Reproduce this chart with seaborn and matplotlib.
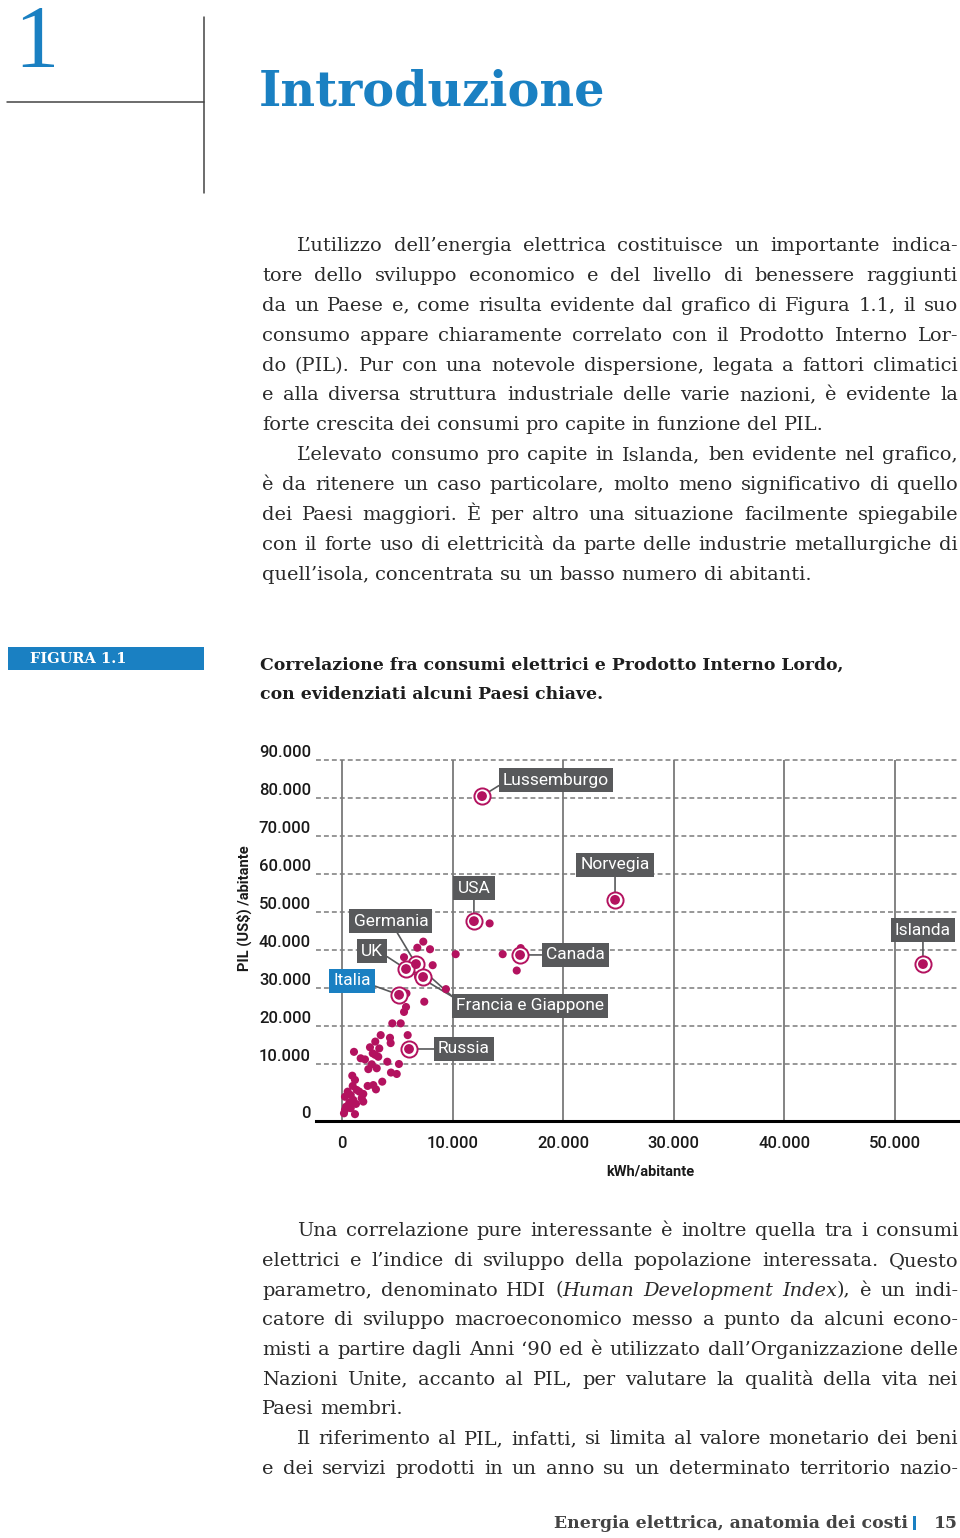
import numpy as np
import pandas as pd
import seaborn as sns
import matplotlib.pyplot as plt
from matplotlib import transforms
from matplotlib.patches import Rectangle
from matplotlib.lines import Line2D

W, H = 960, 1538
BLUE = '#1a80c2'
MAGENTA = '#b3125f'
LABEL_GRAY = '#58595b'
GRID = '#7a7a7a'
INK = '#2a2a2a'
SERIF = 'DejaVu Serif'
SANS = 'Roboto'

# --- chart data (kWh per inhabitant, GDP US$ per inhabitant) ---
key_countries = ['Lussemburgo', 'USA', 'Norvegia', 'Islanda', 'Canada',
                 'Germania', 'UK', 'Francia', 'Italia', 'Russia']
key_kwh = [12660, 11930, 24690, 52530, 16100, 6690, 5790, 7330, 5160, 6060]
key_pil = [80500, 47600, 53200, 36300, 38700, 36300, 35000, 32900, 28200, 13950]

other_kwh = [13350, 10280, 14530, 15800, 16160, 7350, 6810, 7960, 5610, 8200,
             6870, 5830, 7440, 5790, 5610, 9400,
             4550, 5310, 5940, 3500, 4340, 4400, 3010, 1085, 2530, 3370,
             2780, 3010, 3280, 1690, 2080, 4100, 5150, 2690, 3140, 2380,
             4430, 4950, 930, 1175, 3640, 2320, 2830, 3070, 970, 1330,
             515, 790, 270, 1565, 1925, 1780, 1020, 660, 1925, 1265,
             360, 270, 180, 1175, 570, 790]
other_pil = [47000, 38900, 38900, 34600, 40500, 42200, 40600, 40200, 38100, 36000,
             33000, 28600, 26400, 25000, 23700, 29700,
             20700, 20700, 17600, 17600, 16900, 15500, 15900, 13200, 14400, 14100,
             12800, 12400, 11900, 11500, 11200, 10600, 10000, 9950, 9250, 9100,
             8500, 8250, 7950, 7200, 6900, 6150, 6300, 5550, 6150, 5450,
             5150, 4550, 4250, 5150, 4750, 4000, 3700, 3200, 3400, 3000,
             2500, 1950, 1350, 1200, 2500, 2250]

x_ticks = [0, 10000, 20000, 30000, 40000, 50000]
x_ticklabels = ['0', '10.000', '20.000', '30.000', '40.000', '50.000']
y_ticks = [0, 10000, 20000, 30000, 40000, 50000, 60000, 70000, 80000, 90000]
y_ticklabels = ['0', '10.000', '20.000', '30.000', '40.000', '50.000',
                '60.000', '70.000', '80.000', '90.000']

# label layout: offset of box centre from point (pixels, y up), leader anchor on box
label_layout = {
    'Lussemburgo': ((74, 16), (0.0, 0.3)),
    'USA': ((0, 33), (0.5, 0.0)),
    'Norvegia': ((0, 35), (0.5, 0.0)),
    'Islanda': ((0, 34), (0.5, 0.0)),
    'Canada': ((55, 0), (0.0, 0.5)),
    'Russia': ((55, 0), (0.0, 0.5)),
    'Italia': ((-47, 14), (1.0, 0.25)),
    'UK': ((-34, 18), (1.0, 0.3)),
    'Germania': ((-25, 43), (0.55, 0.0)),
}

df_other = pd.DataFrame({'kwh': other_kwh, 'pil': other_pil})
df_key = pd.DataFrame({'paese': key_countries, 'kwh': key_kwh, 'pil': key_pil})

sns.set_style('white')
plt.rcParams['font.family'] = [SANS, 'DejaVu Sans']

fig = plt.figure(figsize=(W / 100, H / 100), dpi=100)
renderer = fig.canvas.get_renderer()


def fx(px):
    return px / W


def fy(py):
    return 1 - py / H


def text_width(s, **kw):
    t = fig.text(0, 0, s, **kw)
    w = t.get_window_extent(renderer).width
    t.remove()
    return w


# ---------------- header ----------------
fig.text(fx(14), fy(66), '1', family='Liberation Serif', fontsize=64,
         color=BLUE, va='baseline', ha='left')
fig.add_artist(Line2D([fx(7), fx(204)], [fy(102), fy(102)], color='#444444', lw=1.1))
fig.add_artist(Line2D([fx(204), fx(204)], [fy(17), fy(193)], color='#444444', lw=1.1))

tw = text_width('Introduzione', family=SERIF, fontweight='bold', fontsize=40)
fig.text(fx(259), fy(105), 'Introduzione', family=SERIF, fontweight='bold',
         fontsize=40 * 346 / tw, color=BLUE, va='baseline', ha='left')

# ---------------- justified body text ----------------
body_top = [
    ("L’utilizzo dell’energia elettrica costituisce un importante indica-", True, True),
    ("tore dello sviluppo economico e del livello di benessere raggiunti", False, True),
    ("da un Paese e, come risulta evidente dal grafico di Figura 1.1, il suo", False, True),
    ("consumo appare chiaramente correlato con il Prodotto Interno Lor-", False, True),
    ("do (PIL). Pur con una notevole dispersione, legata a fattori climatici", False, True),
    ("e alla diversa struttura industriale delle varie nazioni, è evidente la", False, True),
    ("forte crescita dei consumi pro capite in funzione del PIL.", False, False),
    ("L’elevato consumo pro capite in Islanda, ben evidente nel grafico,", True, True),
    ("è da ritenere un caso particolare, molto meno significativo di quello", False, True),
    ("dei Paesi maggiori. È per altro una situazione facilmente spiegabile", False, True),
    ("con il forte uso di elettricità da parte delle industrie metallurgiche di", False, True),
    ("quell’isola, concentrata su un basso numero di abitanti.", False, False),
]
body_bottom = [
    ("Una correlazione pure interessante è inoltre quella tra i consumi", True, True),
    ("elettrici e l’indice di sviluppo della popolazione interessata. Questo", False, True),
    ("parametro, denominato HDI (*Human Development Index*), è un indi-", False, True),
    ("catore di sviluppo macroeconomico messo a punto da alcuni econo-", False, True),
    ("misti a partire dagli Anni ‘90 ed è utilizzato dall’Organizzazione delle", False, True),
    ("Nazioni Unite, accanto al PIL, per valutare la qualità della vita nei", False, True),
    ("Paesi membri.", False, False),
    ("Il riferimento al PIL, infatti, si limita al valore monetario dei beni", True, True),
    ("e dei servizi prodotti in un anno su un determinato territorio nazio-", False, True),
]
X_LEFT, X_INDENT, X_RIGHT = 262, 297, 958


def split_words(line):
    words = []
    italic = False
    for word in line.split(' '):
        parts = []
        for i, seg in enumerate(word.split('*')):
            if i > 0:
                italic = not italic
            if seg:
                parts.append((seg, italic))
        words.append(parts)
    return words


def word_w(parts, fs):
    return sum(text_width(s, family=SERIF, fontsize=fs,
                          style='italic' if it else 'normal') for s, it in parts)


base_fs = 14
space_w = (text_width('a a', family=SERIF, fontsize=base_fs)
           - text_width('aa', family=SERIF, fontsize=base_fs))
ratio = 10
for line, ind, just in body_top + body_bottom:
    if not just:
        continue
    ws = split_words(line)
    nat = sum(word_w(p, base_fs) for p in ws) + space_w * (len(ws) - 1)
    target = X_RIGHT - (X_INDENT if ind else X_LEFT)
    ratio = min(ratio, target / nat)
BODY_FS = base_fs * ratio * 0.985
space_w = space_w * BODY_FS / base_fs


def draw_block(lines, first_baseline, step):
    for k, (line, ind, just) in enumerate(lines):
        ws = split_words(line)
        widths = [word_w(p, BODY_FS) for p in ws]
        x0 = X_INDENT if ind else X_LEFT
        gap = (X_RIGHT - x0 - sum(widths)) / (len(ws) - 1) if just else space_w
        x = x0
        yb = fy(first_baseline + k * step)
        for parts, w in zip(ws, widths):
            xp = x
            for s, it in parts:
                fig.text(fx(xp), yb, s, family=SERIF, fontsize=BODY_FS, color=INK,
                         style='italic' if it else 'normal', ha='left', va='baseline')
                xp += text_width(s, family=SERIF, fontsize=BODY_FS,
                                 style='italic' if it else 'normal')
            x += w + gap


draw_block(body_top, 251, 29.9)
draw_block(body_bottom, 1236, 29.75)

# ---------------- figure caption ----------------
fig.add_artist(Rectangle((fx(8), fy(670)), fx(196), 23 / H, color=BLUE, lw=0))
fig.text(fx(30), fy(659), 'FIGURA 1.1', family=SERIF, fontweight='bold',
         fontsize=10.5, color='white', va='center', ha='left')
cap1 = 'Correlazione fra consumi elettrici e Prodotto Interno Lordo,'
cw = text_width(cap1, family=SERIF, fontweight='bold', fontsize=12)
CAP_FS = 12 * 582 / cw
fig.text(fx(260), fy(670), cap1, family=SERIF, fontweight='bold',
         fontsize=CAP_FS, color='#1e1e1e', va='baseline', ha='left')
fig.text(fx(260), fy(699), 'con evidenziati alcuni Paesi chiave.', family=SERIF,
         fontweight='bold', fontsize=CAP_FS, color='#1e1e1e', va='baseline', ha='left')

# ---------------- footer ----------------
foot = 'Energia elettrica, anatomia dei costi'
fw = text_width(foot, family=SERIF, fontweight='bold', fontsize=12)
fig.text(fx(908), fy(1528), foot, family=SERIF, fontweight='bold',
         fontsize=12 * 352 / fw, color='#444444', va='baseline', ha='right')
fig.add_artist(Rectangle((fx(913), fy(1530)), 3 / W, 14 / H, color=BLUE, lw=0))
fig.text(fx(958), fy(1528), '15', family=SERIF, fontweight='bold',
         fontsize=12 * 352 / fw, color='#444444', va='baseline', ha='right')

# ---------------- scatter chart ----------------
ax = fig.add_axes([fx(316), fy(1121), 642 / W, 361 / H])


def fwd(y):
    y = np.asarray(y, dtype=float)
    return np.where(y <= 10000, 1.5 * y, y + 5000)


def inv(u):
    u = np.asarray(u, dtype=float)
    return np.where(u <= 15000, u / 1.5, u - 5000)


ax.set_yscale('function', functions=(fwd, inv))
ax.set_xlim(-2350, 55700)
ax.set_ylim(0, 90000)

for v in y_ticks[1:]:
    ax.axhline(v, color=GRID, lw=1.1, ls=(0, (3.2, 2.0)), clip_on=False, zorder=1)
for v in x_ticks:
    ax.axvline(v, color=GRID, lw=1.3, zorder=1)

sns.scatterplot(data=df_other, x='kwh', y='pil', ax=ax, s=34, color=MAGENTA,
                edgecolor='none', zorder=5, legend=False)
sns.scatterplot(data=df_key, x='kwh', y='pil', ax=ax, s=135, color='white',
                edgecolor=MAGENTA, linewidth=1.4, zorder=6, legend=False)
sns.scatterplot(data=df_key, x='kwh', y='pil', ax=ax, s=50, color=MAGENTA,
                edgecolor='none', zorder=7, legend=False)

LABEL_FS = 12.5
pts = dict(zip(key_countries, zip(key_kwh, key_pil)))
for name, (off, rp) in label_layout.items():
    ax.annotate(name, xy=pts[name], xytext=off, textcoords='offset pixels',
                ha='center', va='center', color='white', fontsize=LABEL_FS, family=SANS,
                bbox=dict(boxstyle='square,pad=0.24',
                          fc=BLUE if name == 'Italia' else LABEL_GRAY, ec='none'),
                arrowprops=dict(arrowstyle='-', color=LABEL_GRAY, lw=1.2,
                                shrinkA=0, shrinkB=0, relpos=rp),
                zorder=4)

# "Francia e Giappone" label with its two leader lines
ax.annotate('Francia e Giappone', xy=pts['Francia'], xytext=(107, -29),
            textcoords='offset pixels', ha='center', va='center', color='white',
            fontsize=LABEL_FS, family=SANS,
            bbox=dict(boxstyle='square,pad=0.24', fc=LABEL_GRAY, ec='none'), zorder=4)
for name, off in [('Germania', (37, -33)), ('UK', (47, -28))]:
    ax.annotate('', xy=pts[name], xytext=off, textcoords='offset pixels',
                arrowprops=dict(arrowstyle='-', color=LABEL_GRAY, lw=1.2,
                                shrinkA=0, shrinkB=0), zorder=4)

ax.set_xticks(x_ticks, labels=x_ticklabels)
ax.set_yticks(y_ticks, labels=y_ticklabels)
ax.minorticks_off()
ax.tick_params(axis='x', length=0, pad=11, labelsize=12, labelcolor='#1a1a1a')
ax.tick_params(axis='y', length=0, pad=3.6, labelsize=12, labelcolor='#1a1a1a')
shift = transforms.ScaledTranslation(0, 3 / 100, fig.dpi_scale_trans)
for lab in ax.get_yticklabels():
    lab.set_verticalalignment('baseline')
    lab.set_transform(lab.get_transform() + shift)
for lab in ax.get_xticklabels() + ax.get_yticklabels():
    lab.set_fontweight('medium')

for side in ['left', 'right', 'top']:
    ax.spines[side].set_visible(False)
ax.spines['bottom'].set_color('black')
ax.spines['bottom'].set_linewidth(2.2)
ax.grid(False)

ax.set_xlabel('kWh/abitante', fontweight='bold', fontsize=10.5, color='#1a1a1a')
ax.xaxis.set_label_coords((650 - 316) / 642, -(1164 - 1121) / 361)
ax.set_ylabel('PIL (US$) /abitante', fontweight='bold', fontsize=10.5, color='#1a1a1a')
ax.yaxis.set_label_coords((252 - 316) / 642, (1121 - 908) / 361)

fig.savefig('out.png', dpi=100)
